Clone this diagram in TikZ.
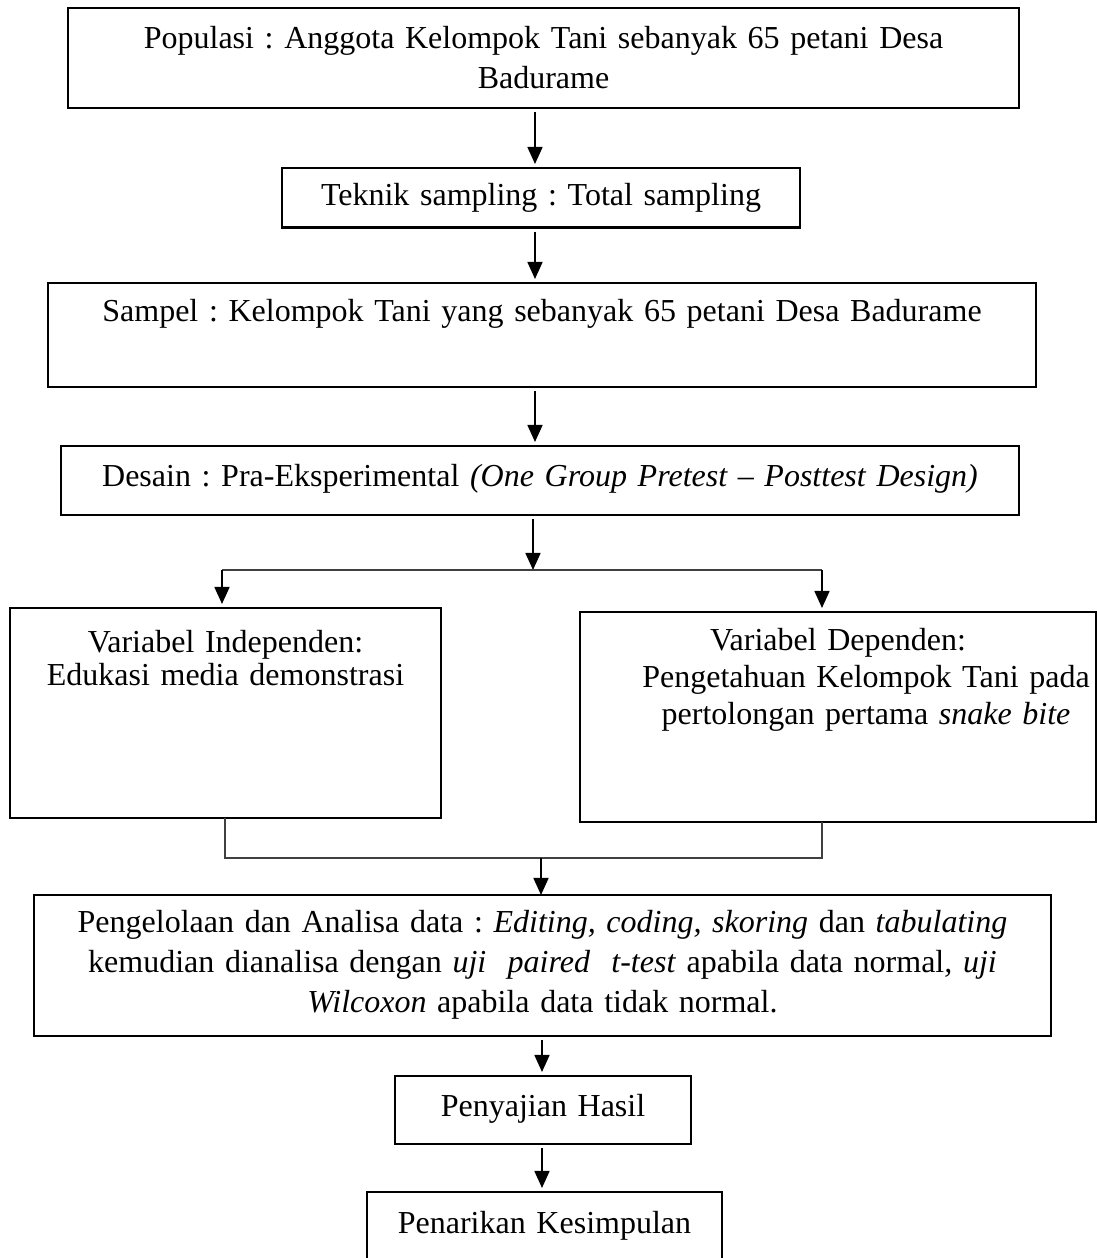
\documentclass[tikz,border=0pt]{standalone}
\usepackage{fontspec}
\setmainfont{Liberation Serif}
\usetikzlibrary{arrows.meta}

\tikzset{procbox/.style={draw,line width=0.85pt,inner sep=0pt,outer sep=0pt,anchor=north,align=center,font=\frenchspacing\fontsize{12}{15}\selectfont},
         flowarrow/.style={line width=0.75pt,-{Triangle[length=6.4pt,width=5.6pt]},shorten >=1.5pt,shorten <=1.5pt},
         joinline/.style={line width=0.45pt,black!75}}

\begin{document}
\begin{tikzpicture}[x=0.375pt,y=-0.375pt]
        \useasboundingbox (0,0) rectangle (1097,1258);
        % boxes
        \node[procbox,text width=356.6pt,text height=15pt,text depth=22.5pt] (pop) at (543.5,8)
            {Populasi : Anggota Kelompok Tani sebanyak 65 petani Desa\\Badurame};
        \node[procbox,text width=194.25pt,text height=14.1pt,text depth=8.25pt] (teknik) at (541,168)
            {Teknik sampling : Total sampling};
        \node[procbox,text width=370.5pt,text height=14.6pt,text depth=24.4pt] (sampel) at (542,283)
            {Sampel : Kelompok Tani yang sebanyak 65 petani Desa Badurame};
        \node[procbox,text width=359.25pt,text height=15pt,text depth=10.9pt] (desain) at (540,446)
            {Desain : Pra-Eksperimental \textit{(One Group Pretest -- Posttest Design)}};
        \node[procbox,text width=161.6pt,text height=16.5pt,text depth=62.25pt,font=\frenchspacing\fontsize{12}{12.6}\selectfont] (indep) at (225.5,608)
            {Variabel Independen:\\Edukasi media demonstrasi};
        \node[procbox,text width=193.5pt,text height=14.6pt,text depth=64.1pt,font=\frenchspacing\fontsize{12}{13.75}\selectfont] (dep) at (838,612)
            {Variabel Dependen:\\\hspace*{21pt}Pengetahuan Kelompok Tani pada\\\hspace*{21pt}pertolongan pertama \textit{snake bite}};
        \node[procbox,line width=0.45pt,text width=381.4pt,text height=13.9pt,text depth=39pt] (analisa) at (542.5,895)
            {Pengelolaan dan Analisa data : \textit{Editing, coding, skoring} dan \textit{tabulating}\\
             kemudian dianalisa dengan \textit{uji}\ \ \textit{paired}\ \ \textit{t-test} apabila data normal\textit{, uji}\\
             \textit{Wilcoxon} apabila data tidak normal.};
        \node[procbox,text width=111pt,text height=15pt,text depth=10.5pt] (hasil) at (543,1076)
            {Penyajian Hasil};
        \node[procbox,text width=133.1pt,text height=15.4pt,text depth=11.6pt] (simpul) at (544.5,1192)
            {Penarikan Kesimpulan};
        % arrows down the middle
        \coordinate (ax) at (535,0);
        \coordinate (bx) at (542,0);
        \draw[flowarrow] (pop.south -| ax) -- (teknik.north -| ax);
        \draw[flowarrow] (teknik.south -| ax) -- (sampel.north -| ax);
        \draw[flowarrow] (sampel.south -| ax) -- (desain.north -| ax);
        % split into the two variables
        \coordinate (split) at (533,570);
        \coordinate (sl) at (222,570);
        \coordinate (sr) at (822,570);
        \draw[flowarrow,shorten >=0pt] (desain.south -| split) -- (split);
        \draw[joinline] (sl) -- (sr);
        \draw[flowarrow,shorten <=0pt] (sl) -- (sl |- indep.north);
        \draw[flowarrow,shorten <=0pt] (sr) -- (sr |- dep.north);
        % join again
        \coordinate (jl) at (225,858);
        \coordinate (jr) at (822,858);
        \coordinate (join) at (541,858);
        \draw[joinline] (jl |- indep.south) -- (jl) -- (jr) -- (jr |- dep.south);
        \draw[flowarrow,shorten <=0pt,shorten >=0pt] (join) -- (join |- analisa.north);
        \draw[flowarrow] (analisa.south -| bx) -- (hasil.north -| bx);
        \draw[flowarrow] (hasil.south -| bx) -- (simpul.north -| bx);
\end{tikzpicture}
\end{document}
